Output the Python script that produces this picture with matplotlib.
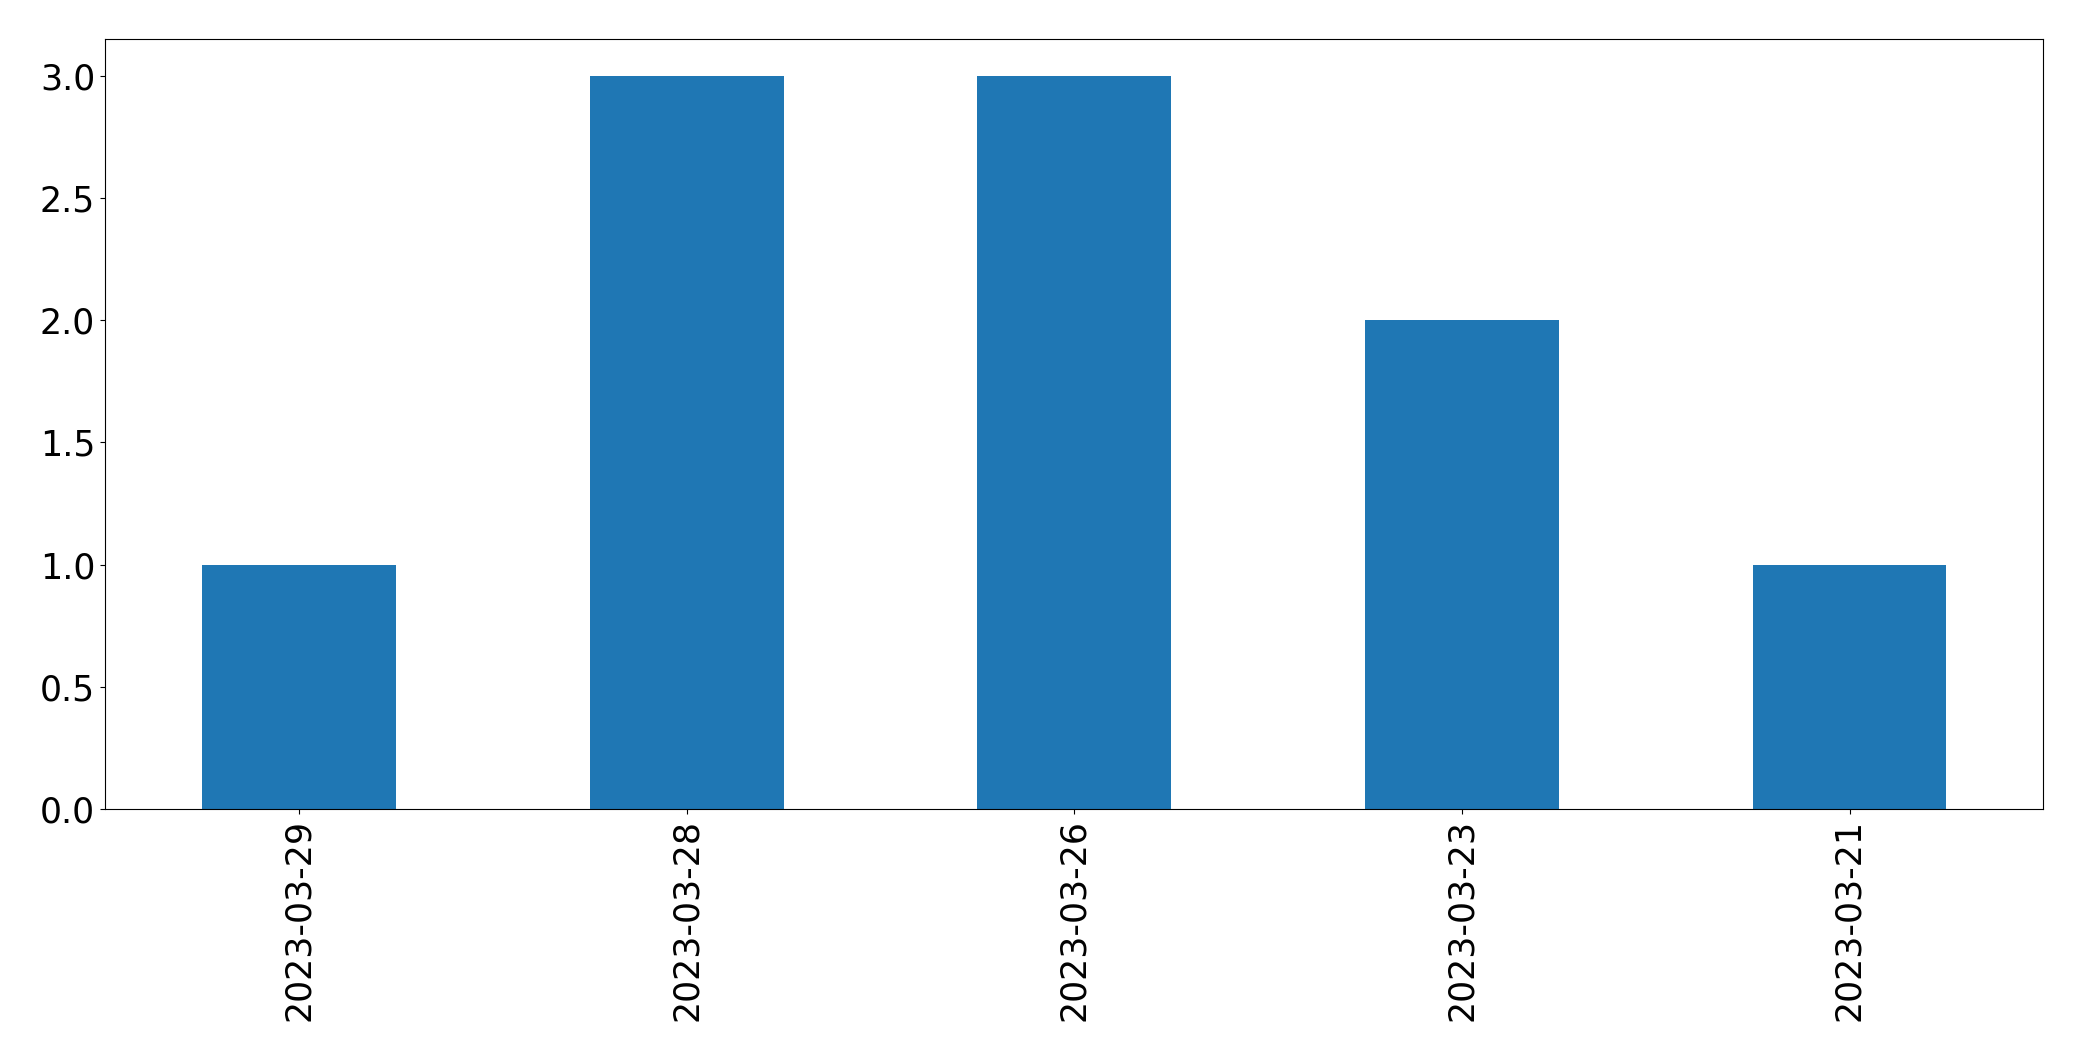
import matplotlib
matplotlib.use("Agg")
import matplotlib.pyplot as plt
import numpy as np

# counts per day
dates = ["2023-03-29", "2023-03-28", "2023-03-26", "2023-03-23", "2023-03-21"]
counts = [1, 3, 3, 2, 1]

fig = plt.figure(figsize=(20.82, 10.61), dpi=100)
ax = fig.add_axes([105.3 / 2082, 1 - 809 / 1061, (2043.3 - 105.3) / 2082, (809 - 39.3) / 1061])

x = np.arange(len(dates))
ax.bar(x, counts, width=0.5, color="#1f77b4")
ax.set_xlim(-0.5, len(dates) - 0.5)
ax.set_xticks(x)
ax.set_xticklabels(dates, rotation=90)
ax.tick_params(axis="both", labelsize=25, length=3.8)

fig.savefig("out.png", dpi=100)
